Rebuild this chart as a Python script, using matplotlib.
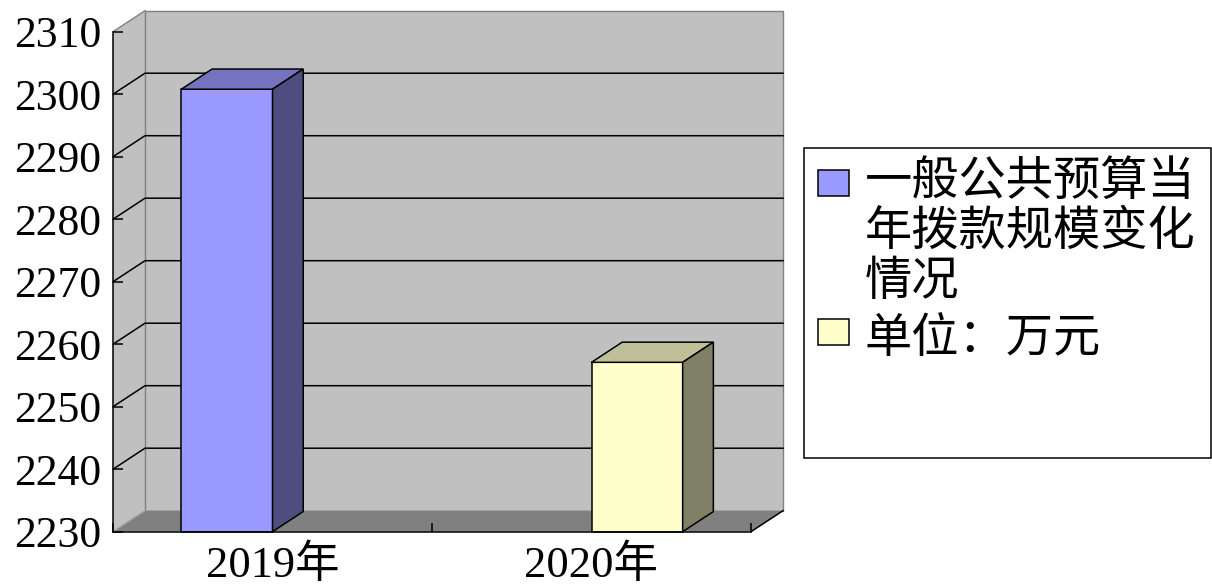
import numpy as np
import matplotlib
matplotlib.use('Agg')
import matplotlib.pyplot as plt
from matplotlib.patches import Polygon, Rectangle
from matplotlib.legend_handler import HandlerPatch

# ---------------- data ----------------
categories = ['2019年', '2020年']
series_names = ['一般公共预算当\n年拨款规模变化\n情况', '单位：万元']
series_1 = [2300.8, np.nan]
series_2 = [np.nan, 2257.1]
series_values = [series_1, series_2]
y_ticks = [2230, 2240, 2250, 2260, 2270, 2280, 2290, 2300, 2310]
front_colors = ['#9999FF', '#FFFFCC']
top_colors = ['#7373BF', '#BFBF99']
side_colors = ['#4D4D80', '#808066']

# ---------------- figure ----------------
W, H = 1212, 585
fig = plt.figure(figsize=(W / 100, H / 100), dpi=100)
fig.patch.set_facecolor('white')

ax_left, ax_right, ax_top, ax_bot = 113, 751, 31.7, 531.7
ax = fig.add_axes([ax_left / W, 1 - ax_bot / H, (ax_right - ax_left) / W, (ax_bot - ax_top) / H])
ymin, ymax = y_ticks[0], y_ticks[-1]
ax.set_xlim(0, len(categories))
ax.set_ylim(ymin, ymax)
ax.patch.set_visible(False)

# depth offset (32 px right, 21 px up) expressed in data units
p0 = ax.transData.transform((0, ymin))
p1 = ax.transData.inverted().transform(p0 + np.array([32.0, 21.0]))
ddx, ddy = p1[0] - 0, p1[1] - ymin
bar_depth = 0.96
bdx, bdy = ddx * bar_depth, ddy * bar_depth

LW = 1.1
ncat = len(categories)

# walls and floor
side = Polygon([(0, ymin), (ddx, ymin + ddy), (ddx, ymax + ddy), (0, ymax)],
               closed=True, fc='#C0C0C0', ec='none', zorder=0, clip_on=False)
ax.add_patch(side)
back = Rectangle((ddx, ymin + ddy), ncat, ymax - ymin, fc='#C0C0C0', ec='#808080',
                 lw=1.0, zorder=0.1, clip_on=False)
ax.add_patch(back)
floor = Polygon([(0, ymin), (ncat, ymin), (ncat + ddx, ymin + ddy), (ddx, ymin + ddy)],
                closed=True, fc='#808080', ec='none', zorder=0.2, clip_on=False)
ax.add_patch(floor)
ax.plot([0, ddx], [ymax, ymax + ddy], color='#808080', lw=1.0, zorder=0.3, clip_on=False)
ax.plot([0, ddx], [ymin, ymin + ddy], color='#A0A0A0', lw=1.0, zorder=0.3, clip_on=False)
ax.plot([ncat, ncat + ddx], [ymin, ymin + ddy], color='black', lw=LW, zorder=0.4, clip_on=False)

# gridlines (back wall + side wall)
for yv in y_ticks[1:-1]:
    ax.plot([0, ddx, ncat + ddx], [yv, yv + ddy, yv + ddy], color='black', lw=LW,
            zorder=0.5, clip_on=False)

# bars
nser = len(series_values)
bw = 1.0 / (nser + 1.5)
for si, vals in enumerate(series_values):
    for ci, v in enumerate(vals):
        if np.isnan(v):
            continue
        xl = ci + 0.75 * bw + si * bw
        ax.bar(xl, v - ymin, bottom=ymin, width=bw, align='edge', color=front_colors[si],
               edgecolor='black', linewidth=LW, zorder=3, clip_on=False)
        top = Polygon([(xl, v), (xl + bw, v), (xl + bw + bdx, v + bdy), (xl + bdx, v + bdy)],
                      closed=True, fc=top_colors[si], ec='black', lw=LW, zorder=3,
                      joinstyle='miter', clip_on=False)
        sidef = Polygon([(xl + bw, ymin), (xl + bw + bdx, ymin + bdy), (xl + bw + bdx, v + bdy),
                         (xl + bw, v)], closed=True, fc=side_colors[si], ec='black', lw=LW,
                        zorder=3, joinstyle='miter', clip_on=False)
        ax.add_patch(top)
        ax.add_patch(sidef)

# axes, ticks, labels
for s in ['top', 'right']:
    ax.spines[s].set_visible(False)
for s in ['left', 'bottom']:
    ax.spines[s].set_color('black')
    ax.spines[s].set_linewidth(LW)
    ax.spines[s].set_zorder(4)

ax.set_yticks(y_ticks)
ax.set_yticklabels([str(t) for t in y_ticks], family=['Liberation Serif', 'DejaVu Serif'],
                   fontsize=31.5, color='black')
ax.tick_params(axis='y', direction='in', length=7.2, width=LW, pad=8.6, colors='black')

ax.set_xticks(np.arange(ncat + 1))
ax.set_xticklabels([])
ax.set_xticks(np.arange(ncat) + 0.5, minor=True)
ax.set_xticklabels(categories, minor=True, family=['Liberation Serif', 'Noto Sans CJK SC'],
                   fontsize=32, color='black')
ax.tick_params(axis='x', which='major', direction='in', length=6.5, width=LW, colors='black')
ax.tick_params(axis='x', which='minor', length=0, pad=9.5)

# legend
FS = 34
LS = 1.05
line_pitch_pt = 48 * 72 / 100.0


def make_patch_func(shift):
    def f(legend, orig_handle, xdescent, ydescent, width, height, fontsize):
        w = 31 * 72 / 100.0
        h = 26 * 72 / 100.0
        cy = -ydescent + height / 2.0 + shift
        return Rectangle((-xdescent + (width - w) / 2.0, cy - h / 2.0), w, h)
    return f


handles = [Rectangle((0, 0), 1, 1, fc=c, ec='black', lw=LW) for c in front_colors]
hmap = {}
for hd, name in zip(handles, series_names):
    nlines = name.count('\n') + 1
    hmap[hd] = HandlerPatch(patch_func=make_patch_func((nlines - 1) / 2.0 * line_pitch_pt + 2))

leg = ax.legend(handles, series_names, handler_map=hmap, loc='upper left',
                bbox_to_anchor=(818 / W, 1 - 157 / H), bbox_transform=fig.transFigure,
                frameon=False, borderpad=0, borderaxespad=0, handlelength=0.66,
                handleheight=0.7, handletextpad=0.33, labelspacing=0.17,
                prop={'family': ['Noto Sans CJK SC', 'DejaVu Sans'], 'size': FS})
for t in leg.get_texts():
    t.set_linespacing(LS)

fig.add_artist(Rectangle((804 / W, 1 - 458.3 / H), (1210.7 - 804) / W, (458.3 - 148.3) / H,
                         transform=fig.transFigure, fill=False, ec='black', lw=LW))

fig.savefig('out.png', dpi=100)
